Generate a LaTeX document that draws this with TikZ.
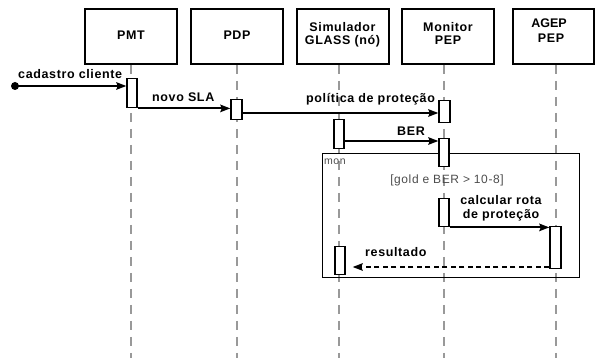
\documentclass[tikz,border=0pt]{standalone}
\usepackage{fontspec}
\setmainfont{Liberation Sans}[LetterSpace=5]
\newfontfamily\tightfont{Liberation Sans}
\usetikzlibrary{arrows.meta,calc}
\tikzset{
  actor/.style={draw,line width=1.8pt,minimum width=92pt,minimum height=55pt,inner sep=0pt},
  life/.style={draw=black!40,line width=2pt,dash pattern=on 9pt off 7pt},
  bar/.style={draw,fill=white,line width=1.4pt,minimum width=10pt,inner sep=0pt,anchor=north},
  msg/.style={line width=1.8pt,-{Stealth[length=10pt,width=7.5pt,inset=1.5pt]}},
  reply/.style={msg,dash pattern=on 5pt off 3.5pt},
  lbl/.style={font=\bfseries\fontsize{12.5}{13}\selectfont,inner sep=0pt},
  guard/.style={font=\fontsize{12}{13}\selectfont,text=black!70,inner sep=0pt},
  frame/.style={draw,line width=1.4pt}
}
\begin{document}
\begin{tikzpicture}[x=1pt,y=-1pt]
\useasboundingbox (0,0) rectangle (595,358);
% actors
\node[actor] (pmt) at (131,36.5) {};
\node[actor] (pdp) at (237,36.5) {};
\node[actor] (sim) at (343,36.5) {};
\node[actor] (mon) at (448,36.5) {};
\node[actor,minimum width=81pt] (agep) at (553.5,36.5) {};
\node[lbl,anchor=base] (tpmt) at (131,40) {PMT};
\node[lbl,anchor=base] (tpdp) at (237,40) {PDP};
\node[lbl,anchor=base] (tsim1) at (342.5,32) {Simulador};
\node[lbl,anchor=base] (tsim2) at (342.5,45) {GLASS (nó)};
\node[lbl,anchor=base] (tmon1) at (448,32) {Monitor};
\node[lbl,anchor=base] (tmon2) at (448,45) {PEP};
\node[lbl,anchor=base,font=\tightfont\bfseries\fontsize{12.5}{13}\selectfont] (tagep1) at (549,28) {AGEP};
\node[lbl,anchor=base] (tagep2) at (551,43) {PEP};
% lifeline ends
\coordinate (e1) at (131,358);
\coordinate (e2) at (237,358);
\coordinate (e3) at (339,358);
\coordinate (e4) at (444,358);
\coordinate (e5) at (556,358);
\draw[life] (pmt.south) -- (e1);
\draw[life] (pdp.south) -- (e2);
\draw[life] (e3 |- sim.south) -- (e3);
\draw[life] (e4 |- mon.south) -- (e4);
\draw[life] (e5 |- agep.south) -- (e5);
% combined fragment
\node[frame,minimum width=257pt,minimum height=124pt,inner sep=0pt,anchor=north west] (frag) at (322,153) {};
\node[guard,anchor=base west,font=\fontsize{10.5}{12}\selectfont] (fraglbl) at (324,165) {mon};
\node[guard,anchor=base] (cond) at (447,184) {[gold e BER > 10-8]};
% activation bars
\node[bar,minimum height=29pt] (b1) at (132,78) {};
\node[bar,minimum height=20pt,minimum width=11pt] (b2) at (236.5,99) {};
\node[bar,minimum height=22pt,minimum width=11pt] (b3) at (444.5,100) {};
\node[bar,minimum height=29pt] (b4) at (339,119) {};
\node[bar,minimum height=28pt] (b5) at (444,138) {};
\node[bar,minimum height=28pt] (b6) at (444,198) {};
\node[bar,minimum height=42pt,minimum width=11pt] (b7) at (555.5,226) {};
\node[bar,minimum height=28pt] (b8) at (340,246) {};
% messages
\coordinate (start) at (15,86);
\fill (start) circle (4pt);
\draw[msg] (start) -- (start -| b1.west);
\node[lbl,anchor=base west] (m1) at (18,79) {cadastro cliente};
\draw[msg] (b1.south east) -- (b1.south east -| b2.west);
\node[lbl,anchor=base west] (m2) at (152,102) {novo SLA};
\draw[msg] (b2.east |- 0,113) -- (b3.west |- 0,113);
\node[lbl,anchor=base west] (m3) at (306,103) {política de proteção};
\draw[msg] (b4.east |- 0,141) -- (b5.west |- 0,141);
\node[lbl,anchor=base west] (m4) at (397,136) {BER};
\draw[msg] (b6.south east) -- (b6.south east -| b7.west);
\node[lbl,anchor=base] (m5a) at (501,205) {calcular rota};
\node[lbl,anchor=base] (m5b) at (501,219) {de proteção};
\draw[reply,shorten >=7pt] (b7.west |- 0,267) -- (b8.east |- 0,267);
\node[lbl,anchor=base west] (m6) at (365,257) {resultado};
\end{tikzpicture}
\end{document}
